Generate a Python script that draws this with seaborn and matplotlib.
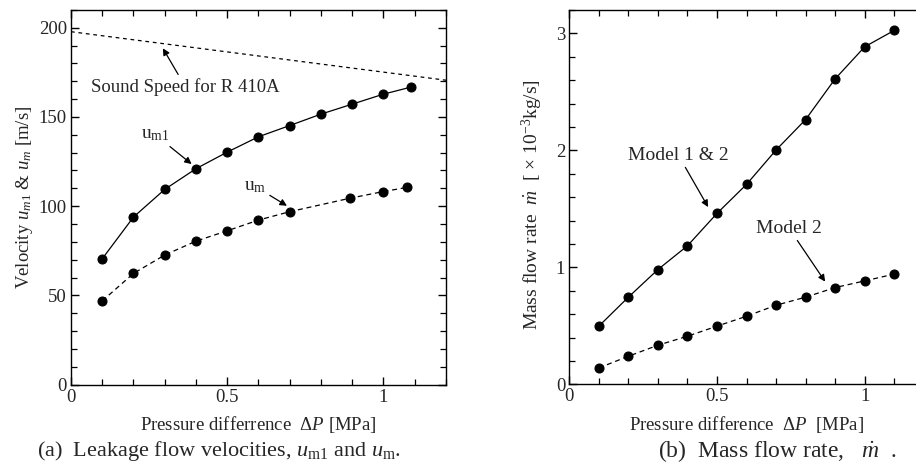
# -*- coding: utf-8 -*-
"""
Leakage flow velocities and mass flow rate versus pressure difference.
"""

import numpy as np
import matplotlib.pyplot as plt
import seaborn as sns
from matplotlib.ticker import MultipleLocator, FuncFormatter

# (a) velocities [m/s]
dp_m1 = [0.1, 0.2, 0.3, 0.4, 0.5, 0.6, 0.7, 0.8, 0.9, 1.0, 1.087]
u_m1 = [70.5, 93.9, 109.4, 121.0, 130.3, 138.9, 145.2, 151.6, 157.2, 162.8, 166.7]

dp_m = [0.1, 0.2, 0.3, 0.4, 0.5, 0.6, 0.7, 0.894, 1.0, 1.075]
u_m = [46.9, 62.3, 72.6, 80.4, 86.2, 92.2, 96.9, 104.5, 108.2, 110.5]

dp_sound = [0.0, 1.2]
u_sound = [197.8, 170.6]

# (b) mass flow rate [x10^-3 kg/s]
dp_flow = [0.1, 0.2, 0.3, 0.4, 0.5, 0.6, 0.7, 0.8, 0.9, 1.0, 1.1]
m_model12 = [0.497, 0.745, 0.981, 1.184, 1.461, 1.709, 2.003, 2.263, 2.611, 2.885, 3.025]
m_model2 = [0.140, 0.240, 0.334, 0.411, 0.497, 0.582, 0.676, 0.745, 0.827, 0.884, 0.942]

sns.set_theme(style='ticks')
plt.rcParams['font.family'] = ['Liberation Serif', 'DejaVu Serif']
plt.rcParams['mathtext.fontset'] = 'custom'
plt.rcParams['mathtext.rm'] = 'Liberation Serif'
plt.rcParams['mathtext.it'] = 'Liberation Serif:italic'
plt.rcParams['axes.linewidth'] = 1.0
plt.rcParams['axes.edgecolor'] = 'black'

fig = plt.figure(figsize=(9.16, 4.73), dpi=100)
ax1 = fig.add_axes([0.0775, 0.187, 0.4094, 0.792])
ax2 = fig.add_axes([0.6215, 0.1875, 0.387, 0.7915])

dot = dict(marker='o', markersize=6.5, markeredgecolor='black',
           markerfacecolor='black', color='black', linewidth=0.9)

# panel (a)
sns.lineplot(x=dp_m1, y=u_m1, ax=ax1, **dot)
sns.lineplot(x=dp_m, y=u_m, ax=ax1, linestyle=(0, (4, 3)), **dot)
sns.lineplot(x=dp_sound, y=u_sound, ax=ax1, color='black', linewidth=0.9,
             linestyle=(0, (3, 3)))

# panel (b)
sns.lineplot(x=dp_flow, y=m_model12, ax=ax2, **dot)
sns.lineplot(x=dp_flow, y=m_model2, ax=ax2, linestyle=(0, (4, 3)), **dot)

fmt = FuncFormatter(lambda v, p: '%g' % v)

for ax in (ax1, ax2):
    ax.set_xlim(0, 1.2)
    ax.xaxis.set_major_locator(MultipleLocator(0.5))
    ax.xaxis.set_minor_locator(MultipleLocator(0.1))
    ax.xaxis.set_major_formatter(fmt)
    ax.tick_params(which='both', direction='in', top=True, right=True,
                   color='black', labelsize=13.5, pad=3)
    ax.tick_params(which='major', length=6, width=1.0)
    ax.tick_params(which='minor', length=4, width=0.9)

ax1.set_ylim(0, 210)
ax1.yaxis.set_major_locator(MultipleLocator(50))
ax1.yaxis.set_minor_locator(MultipleLocator(10))
ax2.set_ylim(0, 3.2)
ax2.yaxis.set_major_locator(MultipleLocator(1))
ax2.yaxis.set_minor_locator(MultipleLocator(0.2))
ax2.yaxis.set_major_formatter(fmt)

ax1.set_xlabel(r'Pressure differrence  $\Delta P$ [MPa]', fontsize=13.5, labelpad=6)
ax1.set_ylabel(r'Velocity $u_{m1}$ & $u_m$ [m/s]', fontsize=13.5, labelpad=3)
ax2.set_xlabel(r'Pressure difference  $\Delta P$  [MPa]', fontsize=13.5, labelpad=6)
ax2.set_ylabel(r'Mass flow rate  $\dot{m}$  [ × 10$^{-3}$kg/s]', fontsize=14, labelpad=3)
ax2.yaxis.set_label_coords(-0.068, 0.48)

arrow = dict(arrowstyle='-|>', color='black', lw=0.9, mutation_scale=10,
             shrinkA=0, shrinkB=0)

ax1.annotate('Sound Speed for R 410A', xy=(0.294, 188.5), xytext=(0.064, 167),
             fontsize=13.5, va='center', ha='left', arrowprops=arrow)
ax1.annotate(r'u$_{\mathrm{m1}}$', xy=(0.386, 123.6), xytext=(0.27, 140),
             fontsize=14, va='center', ha='center', arrowprops=arrow)
ax1.annotate(r'u$_{\mathrm{m}}$', xy=(0.691, 100.2), xytext=(0.59, 111),
             fontsize=14, va='center', ha='center', arrowprops=arrow)

ax2.annotate('Model 1 & 2', xy=(0.47, 1.515), xytext=(0.37, 1.955),
             fontsize=14, va='center', ha='center', arrowprops=arrow)
ax2.annotate('Model 2', xy=(0.866, 0.878), xytext=(0.745, 1.33),
             fontsize=14, va='center', ha='center', arrowprops=arrow)

# captions
fig.text(0.239, 0.046, r'(a)  Leakage flow velocities, $u_{\mathrm{m1}}$ and $u_{\mathrm{m}}$.',
         fontsize=16, ha='center', va='center')
fig.text(0.848, 0.046, r'(b)  Mass flow rate,   $\dot{m}$  .',
         fontsize=17, ha='center', va='center')

fig.savefig('out.png', dpi=100)
